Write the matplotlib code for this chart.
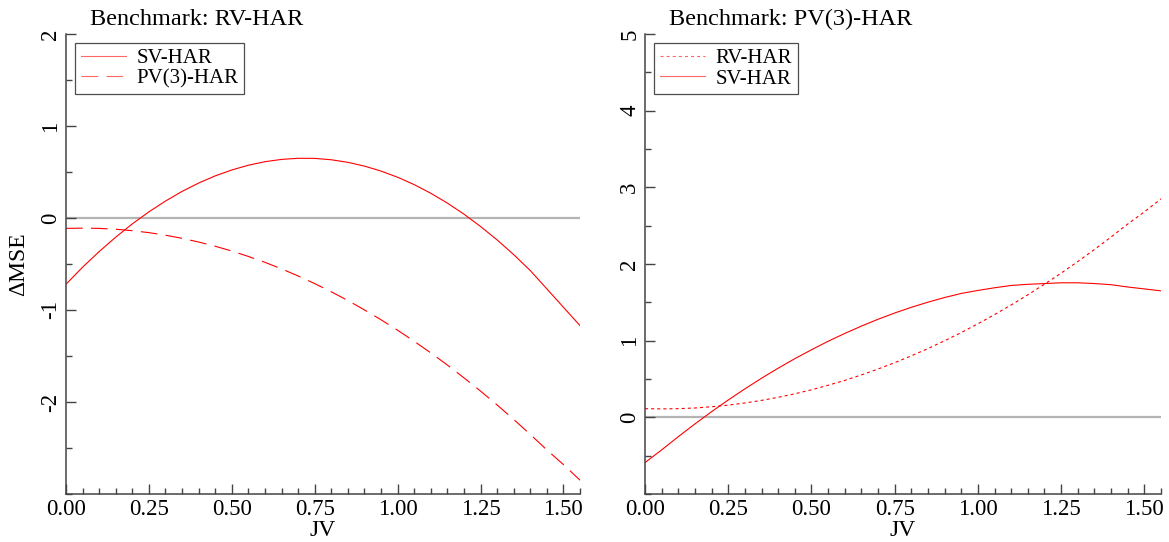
import matplotlib
matplotlib.use("Agg")
import matplotlib.pyplot as plt
from matplotlib.ticker import MultipleLocator, FixedLocator

plt.rcParams['font.family'] = ['Liberation Serif', 'DejaVu Serif']
plt.rcParams['axes.unicode_minus'] = False
plt.rcParams['lines.scale_dashes'] = False

# jump variation grid
jv = [0.00, 0.05, 0.10, 0.15, 0.20, 0.25, 0.30, 0.35, 0.40, 0.45, 0.50,
      0.55, 0.60, 0.65, 0.70, 0.75, 0.80, 0.85, 0.90, 0.95, 1.00, 1.05,
      1.10, 1.15, 1.20, 1.25, 1.30, 1.35, 1.40, 1.45, 1.50, 1.55]

# benchmark RV-HAR
sv_vs_rv = [-0.72, -0.535, -0.365, -0.208, -0.064, 0.067, 0.184, 0.289, 0.380,
            0.458, 0.522, 0.574, 0.612, 0.637, 0.649, 0.648, 0.633, 0.605,
            0.564, 0.510, 0.443, 0.363, 0.269, 0.162, 0.042, -0.092, -0.238,
            -0.398, -0.571, -0.77, -0.97, -1.17]
pv_vs_rv = [-0.113, -0.110, -0.113, -0.122, -0.138, -0.159, -0.187, -0.221,
            -0.261, -0.307, -0.359, -0.418, -0.482, -0.553, -0.630, -0.713,
            -0.802, -0.897, -0.999, -1.106, -1.220, -1.340, -1.466, -1.598,
            -1.737, -1.881, -2.032, -2.189, -2.352, -2.521, -2.68, -2.85]

# benchmark PV(3)-HAR
rv_vs_pv = [0.113, 0.110, 0.113, 0.122, 0.138, 0.159, 0.187, 0.221, 0.261,
            0.307, 0.359, 0.418, 0.482, 0.553, 0.630, 0.713, 0.802, 0.897,
            0.999, 1.106, 1.220, 1.340, 1.466, 1.598, 1.737, 1.881, 2.032,
            2.189, 2.352, 2.521, 2.68, 2.85]
sv_vs_pv = [-0.59, -0.425, -0.252, -0.086, 0.074, 0.226, 0.371, 0.510, 0.641,
            0.765, 0.881, 0.992, 1.094, 1.190, 1.279, 1.361, 1.435, 1.502,
            1.563, 1.616, 1.655, 1.69, 1.72, 1.735, 1.745, 1.755, 1.755,
            1.745, 1.73, 1.70, 1.675, 1.65]

left_yticks = [-2, -1, 0, 1, 2]
right_yticks = [0, 1, 2, 3, 4, 5]

W, H = 1169, 542
fig = plt.figure(figsize=(W / 100, H / 100), dpi=100)
ax1 = fig.add_axes([66 / W, 48 / H, 514 / W, 460 / H])
ax2 = fig.add_axes([645 / W, 48 / H, 516 / W, 460 / H])

red = '#ff0000'
spine_col = '#444444'


def style(ax, ylim, yticks, title):
    ax.set_xlim(0, 1.55)
    ax.set_ylim(*ylim)
    ax.axhline(0, color='#b4b4b4', lw=1.6, zorder=1)
    for s in ['top', 'right']:
        ax.spines[s].set_visible(False)
    for s in ['left', 'bottom']:
        ax.spines[s].set_color(spine_col)
        ax.spines[s].set_linewidth(1.1)
    ax.xaxis.set_major_locator(MultipleLocator(0.25))
    ax.xaxis.set_minor_locator(MultipleLocator(0.05))
    ax.yaxis.set_major_locator(FixedLocator(yticks))
    ax.yaxis.set_minor_locator(MultipleLocator(0.5))
    ax.xaxis.set_major_formatter(plt.FuncFormatter(lambda v, p: f'{v:.2f}'))
    ax.yaxis.set_major_formatter(plt.FuncFormatter(lambda v, p: f'{v:.0f}'))
    ax.tick_params(which='both', direction='in', color=spine_col, width=1.0,
                   labelsize=16.5, pad=3.5)
    ax.tick_params(which='major', length=7)
    ax.tick_params(which='minor', length=4)
    for lab in ax.get_yticklabels():
        lab.set_rotation(90)
        lab.set_va('center')
    ax.set_xlabel('JV', fontsize=17, labelpad=0)
    ax.text(0.047, 1.008, title, transform=ax.transAxes, fontsize=17.5,
            va='bottom', ha='left')


style(ax1, (-3, 2), left_yticks, 'Benchmark: RV-HAR')
ax1.plot(jv, sv_vs_rv, color=red, lw=0.8, label='SV-HAR')
ax1.plot(jv, pv_vs_rv, color=red, lw=0.8, linestyle=(0, (12, 6)),
         label='PV(3)-HAR')
ax1.set_ylabel('\u0394MSE', fontsize=17, labelpad=8)

style(ax2, (-1, 5), right_yticks, 'Benchmark: PV(3)-HAR')
ax2.plot(jv, rv_vs_pv, color=red, lw=0.8, linestyle=(0, (2.2, 2.2)),
         label='RV-HAR')
ax2.plot(jv, sv_vs_pv, color=red, lw=0.8, label='SV-HAR')

for ax in (ax1, ax2):
    leg = ax.legend(loc='upper left', fontsize=15, frameon=True, fancybox=False,
                    borderaxespad=0.45, handlelength=2.2, labelspacing=0.05,
                    borderpad=0.25, handletextpad=0.5)
    leg.get_frame().set_edgecolor('#222222')
    leg.get_frame().set_linewidth(0.9)
    for line in leg.get_lines():
        line.set_alpha(0.6)

fig.savefig('out.png', dpi=100)
